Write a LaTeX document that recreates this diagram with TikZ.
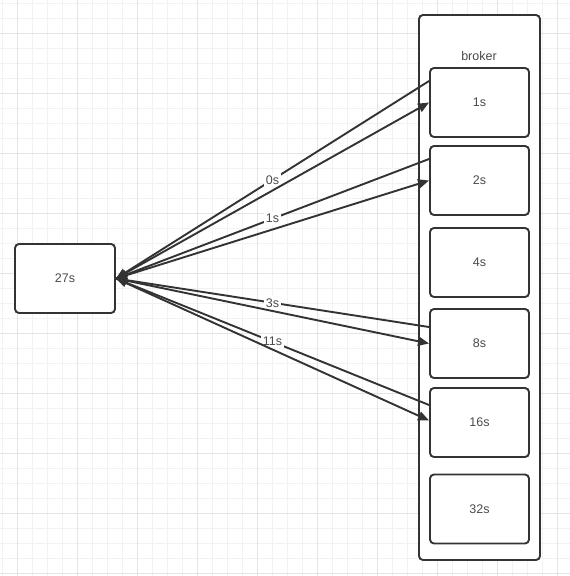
\documentclass[tikz,border=0pt]{standalone}
\usepackage{fontspec}
\setmainfont{Liberation Sans}
\usetikzlibrary{arrows.meta}
\definecolor{ink}{HTML}{333333}
\definecolor{txt}{HTML}{4A4A4A}
\definecolor{gridminor}{HTML}{F2F2F2}
\definecolor{gridmajor}{HTML}{E4E4E4}
\tikzset{
  box/.style={draw=ink, line width=1.9pt, rounded corners=4pt, fill=white, text=txt, font=\fontsize{12.5}{14}\selectfont, inner sep=0pt},
  conn/.style={draw=ink, line width=1.9pt, -{Triangle[length=11pt,width=9pt]}},
  lbl/.style={fill=white, text=txt, font=\fontsize{12.5}{14}\selectfont, inner sep=2pt}
}
\begin{document}
\begin{tikzpicture}[x=1pt,y=-1pt]
\useasboundingbox (0,0) rectangle (570,576);
\fill[white] (0,0) rectangle (570,576);
% grid
\foreach \x in {2,17,...,570} {\draw[gridminor, line width=0.9pt] (\x,0) -- (\x,576);}
\foreach \y in {3,18,...,576} {\draw[gridminor, line width=0.9pt] (0,\y) -- (570,\y);}
\foreach \x in {17,77,...,570} {\draw[gridmajor, line width=0.9pt] (\x,0) -- (\x,576);}
\foreach \y in {33,93,...,576} {\draw[gridmajor, line width=0.9pt] (0,\y) -- (570,\y);}
% nodes
\node[box, minimum width=100pt, minimum height=69pt] (t27) at (65,278.5) {27s};
\node[box, minimum width=121pt, minimum height=545pt] (broker) at (479.5,287.5) {};
\node[text=txt, font=\fontsize{12.5}{14}\selectfont] (blbl) at (479,56) {broker};
\node[box, minimum width=99pt, minimum height=69pt] (b1) at (479.5,102.5) {1s};
\node[box, minimum width=99pt, minimum height=69pt] (b2) at (479.5,180.5) {2s};
\node[box, minimum width=99pt, minimum height=69pt] (b4) at (479.5,262.5) {4s};
\node[box, minimum width=99pt, minimum height=69pt] (b8) at (479.5,343.5) {8s};
\node[box, minimum width=99pt, minimum height=69pt] (b16) at (479.5,422.5) {16s};
\node[box, minimum width=99pt, minimum height=69pt] (b32) at (479.5,509) {32s};
% connectors
\draw[conn] ([yshift=21.5pt]b1.west) -- node[lbl] {0s} (t27.east);
\draw[conn] (t27.east) -- (b1.west);
\draw[conn] ([yshift=21.5pt]b2.west) -- node[lbl] {1s} (t27.east);
\draw[conn] (t27.east) -- (b2.west);
\draw[conn] ([yshift=16.5pt]b8.west) -- node[lbl] {3s} (t27.east);
\draw[conn] (t27.east) -- (b8.west);
\draw[conn] ([yshift=17.5pt]b16.west) -- node[lbl] {11s} (t27.east);
\draw[conn] (t27.east) -- ([yshift=2pt]b16.west);
\end{tikzpicture}
\end{document}
